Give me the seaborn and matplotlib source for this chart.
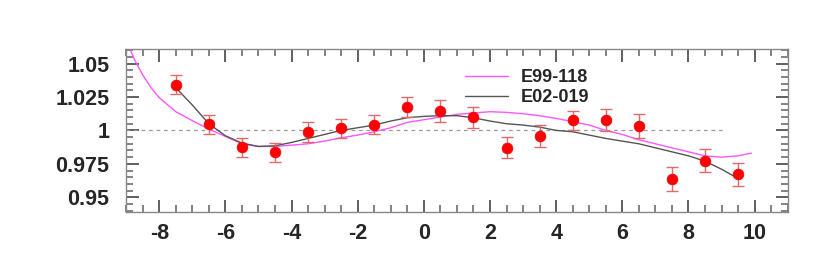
import numpy as np
import pandas as pd
import matplotlib
matplotlib.use("Agg")
import matplotlib.pyplot as plt
import seaborn as sns
from matplotlib.ticker import MultipleLocator, FixedLocator

# ---- data ----
pt_x = [-7.5, -6.5, -5.5, -4.5, -3.5, -2.5, -1.5, -0.5, 0.5, 1.5, 2.5, 3.5, 4.5, 5.5, 6.5, 7.5, 8.5, 9.5]
pt_y = [1.0343, 1.0045, 0.9873, 0.9838, 0.9990, 1.0015, 1.0042, 1.0176, 1.0144, 1.0099,
        0.9870, 0.9957, 1.0075, 1.0075, 1.0034, 0.9637, 0.9773, 0.9672]
pt_err = [0.0070, 0.0070, 0.0071, 0.0071, 0.0075, 0.0072, 0.0072, 0.0077, 0.0080, 0.0078,
          0.0078, 0.0080, 0.0072, 0.0083, 0.0092, 0.0087, 0.0086, 0.0085]

e99_x = [-9, -8.75, -8.5, -8.25, -8, -7.5, -7, -6.5, -6, -5.5, -5, -4.5, -4, -3.5, -3, -2.5, -2, -1.5, -1,
         -0.5, 0, 0.5, 1, 1.5, 2, 2.5, 3, 3.5, 4, 4.5, 5, 5.5, 6, 6.5, 7, 7.5, 8, 8.5, 9, 9.5, 9.9]
e99_y = [1.068, 1.053, 1.0415, 1.032, 1.0245, 1.014, 1.0073, 1.001, 0.9955, 0.990, 0.988, 0.988,
         0.989, 0.990, 0.992, 0.9945, 0.9965, 0.999, 1.002, 1.006, 1.008, 1.010, 1.012, 1.013,
         1.014, 1.0135, 1.0125, 1.011, 1.009, 1.0065, 1.004, 1.000, 0.997, 0.993, 0.990, 0.987,
         0.984, 0.981, 0.980, 0.981, 0.983]

e02_x = [-7.5, -7, -6.5, -6, -5.5, -5, -4.5, -4, -3.5, -3, -2.5, -2, -1.5, -1, -0.5, 0, 0.5,
         1, 1.5, 2, 2.5, 3, 3.5, 4, 4.5, 5, 5.5, 6, 6.5, 7, 7.5, 8, 8.5, 9, 9.5]
e02_y = [1.032, 1.019, 1.005, 0.996, 0.9905, 0.988, 0.9885, 0.991, 0.994, 0.997, 1.000, 1.002,
         1.004, 1.007, 1.0095, 1.0105, 1.011, 1.011, 1.0095, 1.007, 1.005, 1.004, 1.0025, 1.000,
         0.999, 0.9965, 0.994, 0.992, 0.990, 0.987, 0.984, 0.981, 0.977, 0.971, 0.964]

ref_x = [-9, 9]
ref_y = [1.0, 1.0]

x_ticks = [-8, -6, -4, -2, 0, 2, 4, 6, 8, 10]
y_ticks = [0.95, 0.975, 1.0, 1.025, 1.05]
y_labels = ["0.95", "0.975", "1", "1.025", "1.05"]

# ---- plot ----
sns.set_style("ticks")
plt.rcParams['font.family'] = ['Liberation Sans', 'DejaVu Sans']

fig = plt.figure(figsize=(8.3, 2.64), dpi=100)
ax = fig.add_axes([0.152, 0.197, 0.797, 0.617])

ax.plot(ref_x, ref_y, ls=(0, (3, 3)), color='#999999', lw=0.9, zorder=1)

df99 = pd.DataFrame({"x": e99_x, "y": e99_y})
df02 = pd.DataFrame({"x": e02_x, "y": e02_y})
sns.lineplot(data=df99, x="x", y="y", ax=ax, color='#ff55ff', lw=1.0, label='E99-118',
             sort=False, zorder=2)
sns.lineplot(data=df02, x="x", y="y", ax=ax, color='#555555', lw=1.0, label='E02-019',
             sort=False, zorder=3)

ax.errorbar(pt_x, pt_y, yerr=pt_err, fmt='none', ecolor='#e06a6a', elinewidth=1.0,
            capsize=4, capthick=1.0, zorder=4)
dfp = pd.DataFrame({"x": pt_x, "y": pt_y})
sns.scatterplot(data=dfp, x="x", y="y", ax=ax, color='#ff0000', s=60, edgecolor='#ee0000',
                linewidth=0.5, zorder=5, legend=False)

ax.set_xlabel("")
ax.set_ylabel("")

ax.legend(loc='upper left', bbox_to_anchor=(0.501, 0.92), frameon=False,
          prop={'size': 13, 'weight': 'bold'}, handlelength=2.4, handletextpad=0.7,
          labelspacing=0.15, borderaxespad=0)

ax.set_xlim(-9, 11)
ax.set_ylim(0.939, 1.0608)
ax.xaxis.set_major_locator(FixedLocator(x_ticks))
ax.yaxis.set_major_locator(FixedLocator(y_ticks))
ax.set_xticklabels([str(t) for t in x_ticks])
ax.set_yticklabels(y_labels)
ax.xaxis.set_minor_locator(MultipleLocator(0.5))
ax.yaxis.set_minor_locator(MultipleLocator(0.005))

for s in ax.spines.values():
    s.set_visible(True)
    s.set_color('#888888')
    s.set_linewidth(1.0)

ax.tick_params(which='both', direction='in', top=True, bottom=True, left=True, right=True,
               color='#606060')
ax.tick_params(which='major', length=9, width=1.4)
ax.tick_params(which='minor', length=5, width=1.1)
ax.tick_params(axis='x', which='major', labelsize=15.5, pad=8)
ax.tick_params(axis='y', which='major', labelsize=15.5, pad=12)
for lab in ax.get_xticklabels() + ax.get_yticklabels():
    lab.set_fontweight('bold')

fig.savefig("out.png", dpi=100)
